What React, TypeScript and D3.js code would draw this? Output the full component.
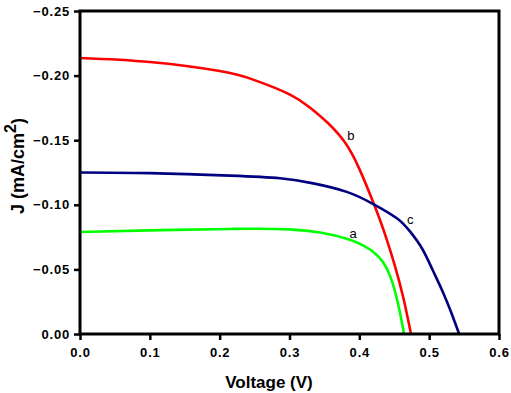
import React, { useEffect, useRef } from 'react';
import * as d3 from 'd3';

const xTicks = [0, 0.1, 0.2, 0.3, 0.4, 0.5, 0.6];
const yTicks = [0, -0.05, -0.1, -0.15, -0.2, -0.25];

const voltA = [0, 0.1, 0.215, 0.25, 0.3, 0.344, 0.382, 0.401, 0.42, 0.434, 0.444, 0.452, 0.458, 0.464];
const jA = [-0.079, -0.0802, -0.0813, -0.0815, -0.081, -0.0785, -0.0738, -0.0697, -0.0635, -0.0555, -0.045, -0.031, -0.017, 0];

const voltB = [0, 0.1, 0.2, 0.25, 0.3, 0.33, 0.355, 0.38, 0.4, 0.42, 0.435, 0.45, 0.463, 0.474];
const jB = [-0.2136, -0.2105, -0.2035, -0.1965, -0.1855, -0.175, -0.1633, -0.1478, -0.1278, -0.1018, -0.08, -0.0545, -0.028, 0];

const voltC = [0, 0.1, 0.215, 0.2865, 0.334, 0.382, 0.42, 0.4537, 0.4728, 0.49, 0.505, 0.52, 0.532, 0.543];
const jC = [-0.125, -0.1245, -0.1226, -0.1205, -0.1166, -0.11, -0.1006, -0.0896, -0.0792, -0.066, -0.0495, -0.032, -0.016, 0];

const series = [
  { name: 'a', v: voltA, j: jA, color: '#00ff00', label: [0.391, -0.074] },
  { name: 'b', v: voltB, j: jB, color: '#ff0000', label: [0.388, -0.15] },
  { name: 'c', v: voltC, j: jC, color: '#000080', label: [0.473, -0.0855] },
];

export default function App() {
  const ref = useRef<SVGSVGElement | null>(null);
  useEffect(() => {
    const svg = d3.select(ref.current);
    svg.selectAll('*').remove();
    const width = 511, height = 393;
    const margin = { top: 11, right: 12, bottom: 59, left: 80 };
    const x = d3.scaleLinear().domain([0, 0.6]).range([margin.left, width - margin.right]);
    const y = d3.scaleLinear().domain([0, -0.25]).range([height - margin.bottom, margin.top]);
    const font = 'Arial, "Liberation Sans", sans-serif';

    svg.attr('viewBox', `0 0 ${width} ${height}`);

    // curves
    const line = d3.line<[number, number]>()
      .x(d => x(d[0]))
      .y(d => y(d[1]))
      .curve(d3.curveNatural);
    series.forEach(s => {
      const pts = s.v.map((v, i) => [v, s.j[i]] as [number, number]);
      svg.append('path')
        .attr('d', line(pts))
        .attr('fill', 'none')
        .attr('stroke', s.color)
        .attr('stroke-width', 2.6);
      svg.append('text')
        .attr('x', x(s.label[0]))
        .attr('y', y(s.label[1]))
        .attr('text-anchor', 'middle')
        .attr('font-family', font)
        .attr('font-size', 13)
        .attr('fill', '#000')
        .text(s.name);
    });

    // axes
    const xAxis = svg.append('g')
      .attr('transform', `translate(0,${height - margin.bottom})`)
      .call(d3.axisBottom(x).tickValues(xTicks).tickFormat(d3.format('.1f')).tickSize(6).tickSizeOuter(0));
    const yAxis = svg.append('g')
      .attr('transform', `translate(${margin.left},0)`)
      .call(d3.axisLeft(y).tickValues(yTicks).tickFormat(d3.format('.2f')).tickSize(6).tickSizeOuter(0));
    [xAxis, yAxis].forEach(g => {
      g.select('.domain').remove();
      g.selectAll('line').attr('stroke', '#000').attr('stroke-width', 2.5);
      g.selectAll('text')
        .attr('font-family', font)
        .attr('font-size', 13)
        .attr('font-weight', 'bold')
        .attr('fill', '#000')
        .attr('letter-spacing', 0.8);
    });
    xAxis.selectAll('text').attr('dy', '1.05em');
    yAxis.selectAll('text').attr('x', -10);

    // frame
    svg.append('rect')
      .attr('x', margin.left)
      .attr('y', margin.top)
      .attr('width', width - margin.left - margin.right)
      .attr('height', height - margin.top - margin.bottom)
      .attr('fill', 'none')
      .attr('stroke', '#000')
      .attr('stroke-width', 3);

    // axis titles
    svg.append('text')
      .attr('x', 269)
      .attr('y', 388)
      .attr('text-anchor', 'middle')
      .attr('font-family', font)
      .attr('font-size', 17)
      .attr('font-weight', 'bold')
      .text('Voltage (V)');

    const yl = svg.append('text')
      .attr('transform', 'translate(24,166) rotate(-90)')
      .attr('text-anchor', 'middle')
      .attr('font-family', font)
      .attr('font-size', 18)
      .attr('font-weight', 'bold');
    yl.append('tspan').text('J (mA/cm');
    yl.append('tspan').attr('dy', -8).attr('font-size', 16).text('2');
    yl.append('tspan').attr('dy', 8).text(')');
  }, []);
  return <svg ref={ref} width={511} height={393} style={{ position: 'absolute', left: 0, top: 0 }} />;
}
